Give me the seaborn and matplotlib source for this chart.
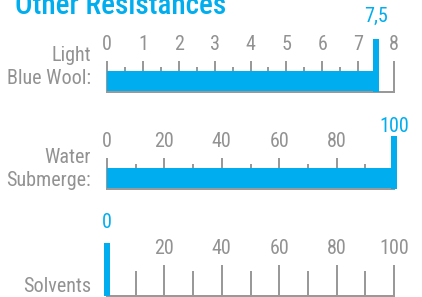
import numpy as np
import matplotlib
matplotlib.use("Agg")
import matplotlib.pyplot as plt
import seaborn as sns

# ---------------- DATA ----------------
categories = ["Light\nBlue Wool:", "Water\nSubmerge:", "Solvents"]
values = [7.5, 100, 0]
value_texts = ["7,5", "100", "0"]
scale_max = [8, 100, 100]
major_ticks = [
    [0, 1, 2, 3, 4, 5, 6, 7, 8],
    [0, 20, 40, 60, 80, 100],
    [0, 20, 40, 60, 80, 100],
]
minor_ticks = [
    [0.5, 1.5, 2.5, 3.5, 4.5, 5.5, 6.5, 7.5],
    [10, 30, 50, 70, 90],
    [10, 30, 50, 70, 90],
]
tick_labels = [
    ["0", "1", "2", "3", "4", "5", "6", "7", "8"],
    ["0", "20", "40", "60", "80", ""],
    ["", "20", "40", "60", "80", "100"],
]
title = "Other Resistances"

# ---------------- STYLE ----------------
BLUE = "#00aeef"
GREY = "#999999"
TEXT_GREY = "#929292"

sns.set_style("white")
plt.rcParams["font.family"] = ["Roboto Condensed", "DejaVu Sans"]
plt.rcParams["font.stretch"] = "condensed"

W, H = 422, 297
fig = plt.figure(figsize=(W / 100, H / 100), dpi=100)

# layout in pixels
x_left, x_right = 107, 394
baselines = [92, 189, 296]
label_centers = [67, 169, 287]
value_label_bottoms = [66, 53, 64]
bar_px, minor_px, major_px, marker_px = 21, 25, 31, 53
px2pt = 72 / 100
FS = 14.5

fig.text(15 / W, 1 - 14 / H, title, color=BLUE, fontsize=21,
         fontweight="medium", ha="left", va="baseline")

for i in range(3):
    base = baselines[i]
    ax = fig.add_axes([x_left / W, 1 - base / H,
                       (x_right - x_left) / W, major_px / H])

    # main bar (one unit of y = bar height)
    sns.barplot(x=[values[i]], y=[0], orient="h", width=1,
                color=BLUE, saturation=1, linewidth=0, ax=ax)
    ax.set_ylim(-0.5, -0.5 + major_px / bar_px)
    ax.set_xlim(0, scale_max[i])

    # value marker
    ax.vlines(values[i], -0.5, -0.5 + marker_px / bar_px, color=BLUE,
              linewidth=6 * px2pt, capstyle="butt", clip_on=False, zorder=3)
    ax.text(values[i], -0.5 + value_label_bottoms[i] / bar_px, value_texts[i],
            color=BLUE, fontsize=FS, ha="center", va="bottom")

    # scale
    ax.set_xticks(major_ticks[i], labels=tick_labels[i])
    ax.set_xticks(minor_ticks[i], minor=True)
    ax.tick_params(axis="x", which="major", direction="in",
                   length=major_px * px2pt, width=2 * px2pt, color=GREY,
                   bottom=True, top=False, labelbottom=False, labeltop=True,
                   labelsize=FS, labelcolor=TEXT_GREY, pad=5)
    ax.tick_params(axis="x", which="minor", direction="in",
                   length=minor_px * px2pt, width=2 * px2pt, color=GREY,
                   bottom=True, top=False)
    ax.set_yticks([])
    ax.set_xlabel("")
    ax.set_ylabel("")
    for side in ["left", "right", "top"]:
        ax.spines[side].set_visible(False)
    ax.spines["bottom"].set_color(GREY)
    ax.spines["bottom"].set_linewidth(2 * px2pt)
    ax.patch.set_alpha(0)

    fig.text(91 / W, 1 - label_centers[i] / H, categories[i],
             color=TEXT_GREY, fontsize=FS, ha="right", va="center",
             linespacing=1.25)

fig.savefig("out.png", dpi=100)
